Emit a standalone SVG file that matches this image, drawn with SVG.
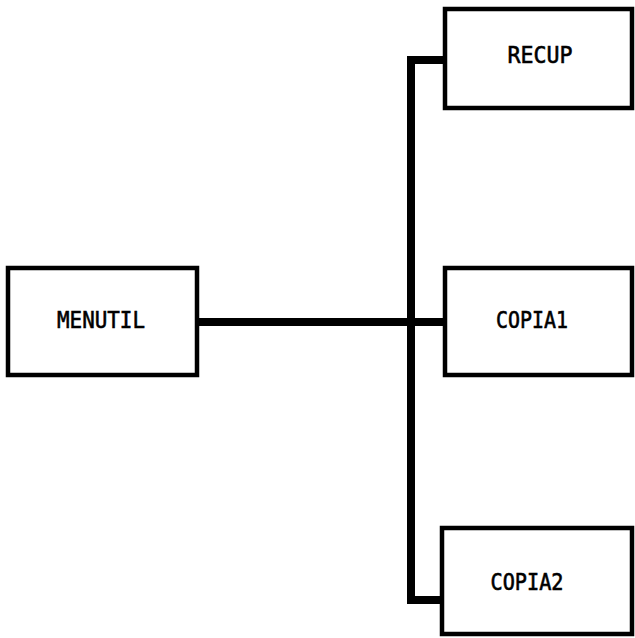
<svg xmlns="http://www.w3.org/2000/svg" width="635" height="638" viewBox="0 0 635 638">
<style>
.box{fill:#fff;stroke:#000;stroke-width:4.5}
.lbl{font-family:"DejaVu Sans Mono","Liberation Mono",monospace;font-size:23px;fill:#000;stroke:#000;stroke-width:0.6;text-anchor:middle}
.con{fill:none;stroke:#000;stroke-width:8;stroke-linejoin:miter}
</style>
<rect width="635" height="638" fill="#fff"/>
<g id="connectors">
<path class="con" d="M199 322 H443"/>
<path class="con" d="M443 60 H411 V600 H440"/>
</g>
<g id="menutil">
<rect class="box" x="8" y="268" width="189" height="107"/>
<text class="lbl" x="101" y="328" textLength="88" lengthAdjust="spacingAndGlyphs">MENUTIL</text>
</g>
<g id="recup">
<rect class="box" x="445" y="9" width="187" height="99"/>
<text class="lbl" x="540" y="63" textLength="65" lengthAdjust="spacingAndGlyphs">RECUP</text>
</g>
<g id="copia1">
<rect class="box" x="445" y="268" width="187" height="107"/>
<text class="lbl" x="532" y="328" textLength="72" lengthAdjust="spacingAndGlyphs">COPIA1</text>
</g>
<g id="copia2">
<rect class="box" x="442" y="528" width="190" height="106"/>
<text class="lbl" x="527" y="590" textLength="73" lengthAdjust="spacingAndGlyphs">COPIA2</text>
</g>
</svg>
